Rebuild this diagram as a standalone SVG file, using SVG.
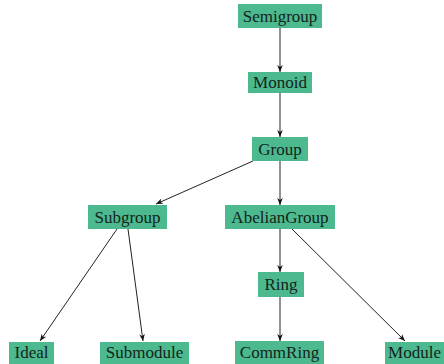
<svg xmlns="http://www.w3.org/2000/svg" width="444" height="364" viewBox="0 0 444 364">
<style>
.n rect{fill:#4cb98f}
.n text{font-family:"Liberation Serif","Times New Roman",serif;font-size:17px;fill:#14241c;text-anchor:middle}
.e line{stroke:#222;stroke-width:1;marker-end:url(#a)}
</style>
<defs>
<marker id="a" viewBox="0 0 10 10" refX="10" refY="5" markerWidth="7" markerHeight="7" markerUnits="userSpaceOnUse" orient="auto">
<path d="M0,1 L10,5 L0,9 L3,5 Z" fill="#111"/>
</marker>
</defs>
<rect width="444" height="364" fill="#fff"/>
<g id="edges" class="e">
<line x1="280" y1="28" x2="280" y2="72"/>
<line x1="280" y1="93" x2="280" y2="137"/>
<line x1="253" y1="161" x2="156" y2="204"/>
<line x1="280" y1="161" x2="280" y2="205"/>
<line x1="117" y1="229" x2="40" y2="341"/>
<line x1="128" y1="229" x2="143" y2="341"/>
<line x1="280" y1="229" x2="280" y2="272"/>
<line x1="292" y1="229" x2="405" y2="341"/>
<line x1="280" y1="297" x2="280" y2="341"/>
</g>
<g id="Semigroup" class="n"><rect x="238" y="4" width="84" height="24"/><text x="280" y="22">Semigroup</text></g>
<g id="Monoid" class="n"><rect x="248" y="72" width="64" height="21"/><text x="280" y="88">Monoid</text></g>
<g id="Group" class="n"><rect x="252" y="137" width="56" height="24"/><text x="280" y="155">Group</text></g>
<g id="Subgroup" class="n"><rect x="88" y="205" width="79" height="24"/><text x="127.5" y="223">Subgroup</text></g>
<g id="AbelianGroup" class="n"><rect x="225" y="205" width="110" height="24"/><text x="280" y="223">AbelianGroup</text></g>
<g id="Ring" class="n"><rect x="258" y="272" width="46" height="25"/><text x="281" y="290">Ring</text></g>
<g id="Ideal" class="n"><rect x="9" y="342" width="45" height="22"/><text x="31.5" y="358">Ideal</text></g>
<g id="Submodule" class="n"><rect x="100" y="342" width="89" height="22"/><text x="144.5" y="358">Submodule</text></g>
<g id="CommRing" class="n"><rect x="235" y="341" width="89" height="23"/><text x="279.5" y="358">CommRing</text></g>
<g id="Module" class="n"><rect x="385" y="342" width="59" height="22"/><text x="414.5" y="358">Module</text></g>
</svg>
